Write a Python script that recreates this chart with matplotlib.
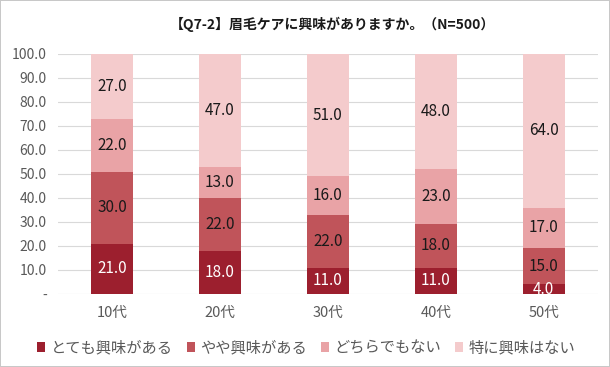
import matplotlib
matplotlib.use('Agg')
import matplotlib.pyplot as plt
import numpy as np

plt.rcParams['font.family'] = ['Noto Sans CJK JP', 'DejaVu Sans']

categories = ['10代', '20代', '30代', '40代', '50代']
series_names = ['とても興味がある', 'やや興味がある', 'どちらでもない', '特に興味はない']
very = [21.0, 18.0, 11.0, 11.0, 4.0]
somewhat = [30.0, 22.0, 22.0, 18.0, 15.0]
neutral = [22.0, 13.0, 16.0, 23.0, 17.0]
not_int = [27.0, 47.0, 51.0, 48.0, 64.0]
yticks = [0, 10, 20, 30, 40, 50, 60, 70, 80, 90, 100]

colors = ['#9C1F2E', '#C0545A', '#E9A3A6', '#F4CBCC']
label_colors = ['white', '#1a1a1a', '#1a1a1a', '#1a1a1a']

fig = plt.figure(figsize=(6.1, 3.67), dpi=100, edgecolor='#C8C8C8', linewidth=1.2)
ax = fig.add_axes([0.095, 0.199, 0.885, 0.654])

x = np.arange(len(categories))
bottom = np.zeros(len(categories))
for vals, name, col, lc in zip([very, somewhat, neutral, not_int], series_names, colors, label_colors):
    bars = ax.bar(x, vals, 0.39, bottom=bottom, color=col, label=name, zorder=3)
    for xi, b, v in zip(x, bottom, vals):
        ax.text(xi, b + v / 2, f'{v:.1f}', ha='center', va='center',
                fontsize=11, color=lc, zorder=4)
    bottom += np.array(vals)

ax.set_xlim(-0.5, 4.5)
ax.set_ylim(0, 100)
ax.set_yticks(yticks)
ax.set_yticklabels(['-' if t == 0 else f'{t:.1f}' for t in yticks])
ax.set_xticks(x)
ax.set_xticklabels(categories)
ax.tick_params(axis='both', length=0, colors='#595959')
ax.tick_params(axis='y', pad=8, labelsize=10)
ax.tick_params(axis='x', pad=9, labelsize=10.5)
ax.grid(axis='y', color='#D9D9D9', linewidth=0.8, zorder=0)
for s in ax.spines.values():
    s.set_visible(False)

fig.text(0.545, 0.935, '【Q7-2】眉毛ケアに興味がありますか。（N=500）',
         ha='center', va='center', fontsize=10, fontweight='bold', color='#1a1a1a')

ax.legend(loc='center', bbox_to_anchor=(0.46, -0.225), ncol=4,
          frameon=False, fontsize=11, handlelength=0.55, handleheight=0.55,
          handletextpad=0.35, columnspacing=0.9, labelcolor='#595959')

fig.savefig('out.png', dpi=100, edgecolor=fig.get_edgecolor())
